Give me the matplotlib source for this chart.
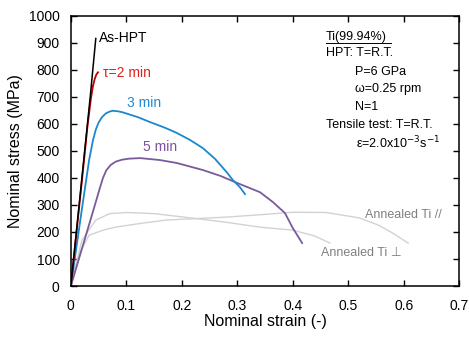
import numpy as np
import matplotlib.pyplot as plt

plt.rcParams['font.family'] = ['Liberation Sans', 'DejaVu Sans']

# curves: strain (-), stress (MPa)
hpt_x = [0, 0.02, 0.035, 0.045]
hpt_y = [0, 400, 700, 915]

t2_x = [0, 0.02, 0.03, 0.036, 0.04, 0.043, 0.046, 0.049]
t2_y = [0, 390, 590, 690, 740, 765, 782, 790]

t3_x = [0, 0.02, 0.033, 0.04, 0.045, 0.05, 0.056, 0.063, 0.07, 0.076, 0.085, 0.094,
        0.12, 0.143, 0.17, 0.191, 0.215, 0.238, 0.26, 0.281, 0.292, 0.305, 0.314]
t3_y = [0, 285, 466, 540, 578, 604, 624, 638, 645, 648, 646, 642,
        625, 606, 585, 566, 540, 510, 470, 421, 392, 365, 340]

t5_x = [0, 0.02, 0.04, 0.052, 0.058, 0.064, 0.072, 0.081, 0.092, 0.105, 0.125, 0.16,
        0.191, 0.238, 0.27, 0.3, 0.341, 0.364, 0.386, 0.40, 0.417]
t5_y = [0, 138, 276, 360, 400, 428, 448, 460, 467, 471, 473, 466,
        455, 429, 407, 381, 347, 311, 270, 215, 159]

annA_x = [0, 0.02, 0.045, 0.07, 0.1, 0.15, 0.22, 0.28, 0.34, 0.40, 0.44, 0.467]
annA_y = [0, 170, 244, 268, 272, 268, 251, 236, 218, 207, 185, 159]

annB_x = [0, 0.015, 0.033, 0.06, 0.081, 0.12, 0.171, 0.23, 0.28, 0.35, 0.40, 0.46,
          0.52, 0.555, 0.58, 0.608]
annB_y = [0, 120, 188, 208, 218, 230, 244, 250, 255, 265, 273, 272,
          252, 225, 196, 159]

note_lines = ['HPT: T=R.T.', 'P=6 GPa', 'ω=0.25 rpm', 'N=1',
              'Tensile test: T=R.T.', 'ε=2.0x10$^{-3}$s$^{-1}$']
note_x = [0.460, 0.512, 0.512, 0.512, 0.460, 0.514]
note_y = [861, 791, 727, 662, 597, 530]

fig = plt.figure(figsize=(4.69, 3.37), dpi=100)
ax = fig.add_axes([0.151, 0.151, 0.828, 0.803])

gray = '#d2d2d2'
ax.plot(annA_x, annA_y, color=gray, lw=1.0)
ax.plot(annB_x, annB_y, color=gray, lw=1.0)
ax.plot(t5_x, t5_y, color='#7a5a9c', lw=1.3)
ax.plot(t3_x, t3_y, color='#1b87d0', lw=1.3)
ax.plot(t2_x, t2_y, color='#c00000', lw=1.3)
ax.plot(hpt_x, hpt_y, color='black', lw=1.1)

ax.text(0.0505, 917, 'As-HPT', fontsize=10, va='center', ha='left')
ax.text(0.058, 787, 'τ=2 min', fontsize=10, va='center', ha='left', color='#e0201b')
ax.text(0.101, 677, '3 min', fontsize=10, va='center', ha='left', color='#1f8ad2')
ax.text(0.130, 514, '5 min', fontsize=10, va='center', ha='left', color='#7f4fa0')
ax.text(0.530, 262, 'Annealed Ti //', fontsize=9, va='center', ha='left', color='#808080')
ax.text(0.451, 122, 'Annealed Ti ⊥', fontsize=9, va='center', ha='left', color='#808080',
        family=['Liberation Sans', 'DejaVu Sans'])

ax.text(0.460, 922, 'Ti(99.94%)', fontsize=9, va='center', ha='left')
ax.plot([0.460, 0.578], [900, 900], color='black', lw=0.7)
for s, x, y in zip(note_lines, note_x, note_y):
    ax.text(x, y, s, fontsize=9, va='center', ha='left')

ax.set_xlim(0, 0.7)
ax.set_ylim(0, 1000)
ax.set_xticks(np.arange(0, 0.71, 0.1))
ax.set_xticklabels(['0', '0.1', '0.2', '0.3', '0.4', '0.5', '0.6', '0.7'])
ax.set_yticks(np.arange(0, 1001, 100))
ax.tick_params(direction='in', top=True, right=True, length=4, width=1, labelsize=10)
ax.tick_params(axis='x', pad=9)
ax.tick_params(axis='y', pad=8)
for sp in ax.spines.values():
    sp.set_linewidth(1.1)
ax.set_xlabel('Nominal strain (-)', fontsize=11.5, labelpad=1)
ax.set_ylabel('Nominal stress (MPa)', fontsize=11.5, labelpad=4)

fig.savefig('out.png', dpi=100)
